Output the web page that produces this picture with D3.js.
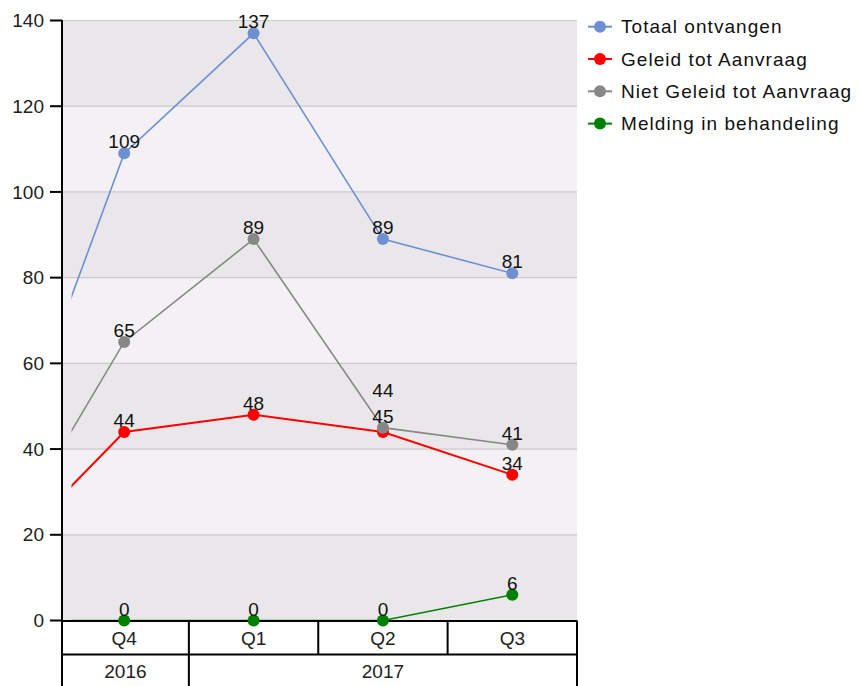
<!DOCTYPE html>
<html><head><meta charset="utf-8">
<script src="https://cdn.jsdelivr.net/npm/d3@7"></script>
<style>
html,body{margin:0;padding:0;background:#fff;}
svg{display:block;font-family:"Liberation Sans",Arial,sans-serif;}
</style></head>
<body><svg id="c" width="859" height="686"></svg>
<script>
// ---- data ----
const quarters = ["Q4", "Q1", "Q2", "Q3"];
const years = ["2016", "2017", "2017", "2017"];
const seriesNames = ["Totaal ontvangen", "Geleid tot Aanvraag", "Niet Geleid tot Aanvraag", "Melding in behandeling"];
const seriesColors = ["#6f8fd3", "#ff0000", "#878787", "#008000"];
const totaal = [109, 137, 89, 81];
const geleid = [44, 48, 44, 34];
const nietGeleid = [65, 89, 45, 41];
const melding = [0, 0, 0, 6];
// previous quarter (Q3 2016), only visible as clipped line segments
const prevValues = [27, 13, 14, 0];
const yTicks = [0, 20, 40, 60, 80, 100, 120, 140];

const seriesValues = [totaal, geleid, nietGeleid, melding];

// ---- layout ----
const svg = d3.select("#c");
const L = 62, R = 577, T = 20.5, B = 620.5;
const ids = quarters.map((q, i) => years[i] + "-" + q);
const x = d3.scaleBand().domain(ids).range([59.5, R]);
const xc = id => x(id) + x.bandwidth() / 2;
const y = d3.scaleLinear().domain([0, 140]).range([B, T]);

// background bands
const bands = d3.range(0, yTicks.length - 1);
svg.append("g").selectAll("rect").data(bands).join("rect")
  .attr("x", L).attr("width", R - L)
  .attr("y", i => y(yTicks[i + 1])).attr("height", i => y(yTicks[i]) - y(yTicks[i + 1]))
  .attr("fill", i => i % 2 === 0 ? "#e9e7e9" : "#f3f1f3");

// grid lines
svg.append("g").selectAll("line").data(yTicks.filter(v => v > 0)).join("line")
  .attr("x1", L).attr("x2", R).attr("y1", d => y(d)).attr("y2", d => y(d))
  .attr("stroke", "#cbcbcb").attr("stroke-width", 1.2);

// clip
svg.append("defs").append("clipPath").attr("id", "clip")
  .append("rect").attr("x", 71.5).attr("y", 0).attr("width", R - 71.5).attr("height", B + 2);

// lines
const line = d3.line().x(d => d[0]).y(d => d[1]);
const gLines = svg.append("g").attr("clip-path", "url(#clip)");
seriesValues.forEach((vals, s) => {
  const pts = [[xc(ids[0]) - x.step(), y(prevValues[s])]].concat(vals.map((v, i) => [xc(ids[i]), y(v)]));
  gLines.append("path").attr("d", line(pts)).attr("fill", "none")
    .attr("stroke", seriesColors[s]).attr("stroke-width", s === 1 ? 2 : 1.6);
});

// axes / table
const ax = svg.append("g").attr("stroke", "#000");
ax.append("line").attr("x1", L).attr("x2", L).attr("y1", T - 0.5).attr("y2", 686).attr("stroke-width", 2);
ax.selectAll(".tk").data(yTicks).join("line").attr("class", "tk")
  .attr("x1", 50).attr("x2", L).attr("y1", d => y(d)).attr("y2", d => y(d)).attr("stroke-width", 2);
ax.append("line").attr("x1", L).attr("x2", R).attr("y1", B + 0.5).attr("y2", B + 0.5).attr("stroke-width", 2.2);
ax.append("line").attr("x1", L).attr("x2", R).attr("y1", 654.5).attr("y2", 654.5).attr("stroke-width", 2);
ax.append("line").attr("x1", R).attr("x2", R).attr("y1", B).attr("y2", 686).attr("stroke-width", 2);
ax.selectAll(".qd").data(ids.slice(1)).join("line").attr("class", "qd")
  .attr("x1", d => x(d)).attr("x2", d => x(d)).attr("y1", B).attr("y2", 654.5).attr("stroke-width", 2);
// year boundaries
const yearGroups = [];
years.forEach((yr, i) => {
  const last = yearGroups[yearGroups.length - 1];
  if (last && last.year === yr) last.end = i; else yearGroups.push({year: yr, start: i, end: i});
});
ax.selectAll(".yd").data(yearGroups.slice(1)).join("line").attr("class", "yd")
  .attr("x1", d => x(ids[d.start])).attr("x2", d => x(ids[d.start])).attr("y1", 654.5).attr("y2", 686).attr("stroke-width", 2);

// y tick labels
svg.append("g").selectAll("text").data(yTicks).join("text")
  .attr("x", 44).attr("y", d => y(d)).attr("dy", "0.35em").attr("text-anchor", "end")
  .attr("font-size", 19).attr("fill", "#222").text(d => d);

// quarter labels
svg.append("g").selectAll("text").data(ids).join("text")
  .attr("x", d => xc(d)).attr("y", 638).attr("dy", "0.35em").attr("text-anchor", "middle")
  .attr("font-size", 19).attr("fill", "#222").text((d, i) => quarters[i]);
// year labels
svg.append("g").selectAll("text").data(yearGroups).join("text")
  .attr("x", d => (Math.max(L, x(ids[d.start])) + x(ids[d.end]) + x.bandwidth()) / 2).attr("y", 671).attr("dy", "0.35em")
  .attr("text-anchor", "middle").attr("font-size", 19).attr("fill", "#222").text(d => d.year);

// markers
seriesValues.forEach((vals, s) => {
  svg.append("g").selectAll("circle").data(vals).join("circle")
    .attr("cx", (v, i) => xc(ids[i])).attr("cy", v => y(v)).attr("r", 6)
    .attr("fill", seriesColors[s]);
});

// data labels with simple collision avoidance
const labels = [];
ids.forEach((id, i) => {
  const items = seriesValues.map((vals, s) => ({s, v: vals[i], x: xc(id), base: y(vals[i]) - 5}))
    .sort((a, b) => b.v - a.v);
  const placed = [];
  items.forEach(it => {
    let b = it.base;
    placed.forEach(p => { if (Math.abs(p.b - b) < 16) b = p.b - 26; });
    placed.push({b});
    labels.push({x: it.x, b, v: it.v});
  });
});
svg.append("g").selectAll("text").data(labels).join("text")
  .attr("x", d => d.x).attr("y", d => d.b).attr("text-anchor", "middle")
  .attr("font-size", 19).attr("fill", "#111").text(d => d.v);

// legend
const lg = svg.append("g").selectAll("g").data(seriesNames).join("g")
  .attr("transform", (d, i) => `translate(600,${26.7 + i * 32.3})`);
lg.append("line").attr("x1", -12).attr("x2", 12).attr("stroke", (d, i) => seriesColors[i]).attr("stroke-width", 2);
lg.append("circle").attr("r", 6).attr("fill", (d, i) => seriesColors[i]);
lg.append("text").attr("x", 21).attr("dy", "0.35em").attr("font-size", 19)
  .attr("letter-spacing", "1.05px").attr("fill", "#111").text(d => d);
</script></body></html>
